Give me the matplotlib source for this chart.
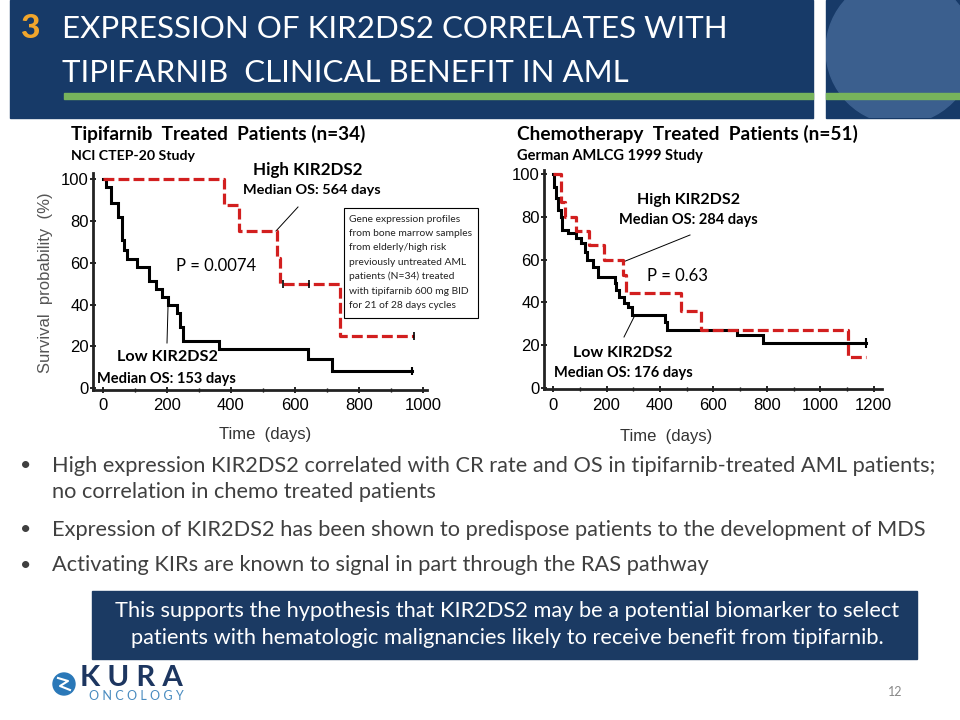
import numpy as np
import matplotlib
matplotlib.use('Agg')
import matplotlib.pyplot as plt
from matplotlib.patches import Rectangle, Circle

# ---- data ----
# tipifarnib (n=34), step times (days) and survival (%)
tipi_low_t = [0, 12, 26, 49, 62, 68, 75, 106, 144, 165, 185, 203, 231, 242, 250, 362, 642, 717]
tipi_low_s = [100, 96.2, 88.5, 82, 71, 66, 62, 58, 51.5, 47.5, 43.5, 39.7, 36, 29.5, 22.6, 18.9, 14.1, 8.3]
tipi_low_end = 966
tipi_high_t = [0, 380, 425, 543, 553, 742]
tipi_high_s = [100, 87.5, 75, 62.5, 50, 25]
tipi_high_end = 972
tipi_high_cens_t = [563, 645]
tipi_high_cens_s = [50, 50]

# chemotherapy (n=51)
chemo_low_t = [0, 4, 12, 19, 29, 35, 56, 87, 106, 119, 127, 150, 169, 231, 237, 247, 265, 281, 294, 419, 425, 687, 787]
chemo_low_s = [100, 94, 88.6, 83, 80, 73.8, 72.2, 69.9, 67.6, 63.6, 59.7, 56.6, 52, 48.8, 45.7, 42.6, 39.5, 37.9, 33.8, 30.9, 27, 24.6, 20.7]
chemo_low_end = 1172
chemo_high_t = [0, 29, 46, 85, 135, 190, 260, 272, 479, 554, 1104]
chemo_high_s = [100, 86.7, 80, 73.3, 66.7, 60, 52.7, 44.4, 35.8, 27.2, 14.3]
chemo_high_end = 1172

y_ticks = [0, 20, 40, 60, 80, 100]
tipi_xticks = [0, 200, 400, 600, 800, 1000]
chemo_xticks = [0, 200, 400, 600, 800, 1000, 1200]

title_lines = ['EXPRESSION OF KIR2DS2 CORRELATES WITH', 'TIPIFARNIB  CLINICAL BENEFIT IN AML']
bullets = ['High expression KIR2DS2 correlated with CR rate and OS in tipifarnib-treated AML patients;\nno correlation in chemo treated patients',
           'Expression of KIR2DS2 has been shown to predispose patients to the development of MDS',
           'Activating KIRs are known to signal in part through the RAS pathway']
box_lines = ['This supports the hypothesis that KIR2DS2 may be a potential biomarker to select',
             'patients with hematologic malignancies likely to receive benefit from tipifarnib.']
note_lines = ['Gene expression profiles', 'from bone marrow samples', 'from elderly/high risk',
              'previously untreated AML', 'patients (N=34) treated', 'with tipifarnib 600 mg BID',
              'for 21 of 28 days cycles']

NAVY = '#173a68'
BOX = '#1b3a63'
GREEN = '#77b35c'
RED = '#d21f1f'
SLIDE_FONT = ['Lato', 'DejaVu Sans']
AX_FONT = ['Liberation Sans', 'DejaVu Sans']

fig = plt.figure(figsize=(9.6, 7.2), dpi=100)
bg = fig.add_axes([0, 0, 1, 1])
bg.set_xlim(0, 960)
bg.set_ylim(720, 0)
bg.axis('off')
renderer = fig.canvas.get_renderer()


def put(x, y, s, width=None, size=12, **kw):
    kw.setdefault('family', SLIDE_FONT)
    kw.setdefault('va', 'center')
    t = bg.text(x, y, s, fontsize=size, **kw)
    if width:
        w = t.get_window_extent(renderer).width
        t.set_fontsize(size * width / w)
    return t


# ---- header ----
bg.add_patch(Rectangle((10, 0), 803, 118, color=NAVY, zorder=1))
panel = Rectangle((826, 0), 134, 118, color=NAVY, zorder=1)
bg.add_patch(panel)
globe = Circle((900, 50), 74, color='#3b5f8e', zorder=2)
bg.add_patch(globe)
globe.set_clip_path(panel)
bg.add_patch(Rectangle((64, 93), 749, 6, color=GREEN, zorder=3))
bg.add_patch(Rectangle((826, 93), 134, 6, color=GREEN, zorder=3))
put(20, 28, '3', size=24, color='#f2a62c', weight='black', zorder=4)
t1 = put(62, 29, title_lines[0], width=665, size=24, color='white', zorder=4)
put(62, 73, title_lines[1], size=t1.get_fontsize(), color='white', zorder=4)

# ---- subtitles ----
put(71, 134, 'Tipifarnib  Treated  Patients (n=34)', width=294, size=13, weight='bold')
put(71, 156, 'NCI CTEP-20 Study', width=124, size=9, weight='bold')
put(517, 134, 'Chemotherapy  Treated  Patients (n=51)', width=340, size=13, weight='bold')
put(517, 156, 'German AMLCG 1999 Study', width=186, size=9, weight='bold')


def km_axes(rect, xlim, ylim, xticks):
    ax = fig.add_axes(rect)
    ax.set_xlim(*xlim)
    ax.set_ylim(*ylim)
    for side in ['top', 'right']:
        ax.spines[side].set_visible(False)
    for side in ['left', 'bottom']:
        ax.spines[side].set_linewidth(2)
        ax.spines[side].set_color('#222222')
    ax.set_yticks(y_ticks)
    ax.set_xticks(xticks)
    ax.set_xticks(np.arange(100, xticks[-1], 200), minor=True)
    ax.tick_params(axis='both', which='major', length=4, width=1.2, direction='inout',
                   labelsize=12, pad=4)
    ax.tick_params(axis='x', which='minor', length=3, width=1, direction='inout')
    ax.tick_params(axis='y', pad=1)
    for lab in ax.get_xticklabels() + ax.get_yticklabels():
        lab.set_family(AX_FONT)
    ax.patch.set_alpha(0)
    return ax


def km(ax, t, s, end, **kw):
    ax.step(list(t) + [end], list(s) + [s[-1]], where='post', **kw)


black_kw = dict(color='black', lw=2.2, solid_joinstyle='miter')
red_kw = dict(color=RED, lw=2.3, dashes=(3.4, 1.3))

# ---- left KM plot ----
axl = km_axes([93 / 960, (720 - 390) / 720, (427 - 93) / 960, (390 - 173) / 720],
              (-30, 1012), (-0.8, 102.9), tipi_xticks)
km(axl, tipi_low_t, tipi_low_s, tipi_low_end, **black_kw)
km(axl, tipi_high_t, tipi_high_s, tipi_high_end, **red_kw)
axl.plot([tipi_low_end], [tipi_low_s[-1]], marker='|', ms=6, mew=1.5, color='black')
axl.plot(tipi_high_cens_t + [tipi_high_end], tipi_high_cens_s + [tipi_high_s[-1]],
         ls='none', marker='|', ms=6, mew=1.2, color='black')

# ---- right KM plot ----
axr = km_axes([544 / 960, (720 - 389.3) / 720, (882 - 544) / 960, (389.3 - 170) / 720],
              (-34, 1231), (-0.75, 101.9), chemo_xticks)
km(axr, chemo_low_t, chemo_low_s, chemo_low_end, **black_kw)
km(axr, chemo_high_t, chemo_high_s, chemo_high_end, **red_kw)
axr.plot([chemo_low_end], [chemo_low_s[-1]], marker='|', ms=7, mew=1.5, color='black')

# axis titles
put(265, 434, 'Time  (days)', size=12, ha='center', family=AX_FONT, color='#333333')
put(666, 437, 'Time  (days)', size=12, ha='center', family=AX_FONT, color='#333333')
put(46, 283, 'Survival  probability  (%)', size=12, ha='center', rotation=90,
    family=AX_FONT, color='#555555')

# ---- annotations, left ----
put(253, 170, 'High KIR2DS2', width=110, size=11, weight='bold')
put(243, 190, 'Median OS: 564 days', width=138, size=9.5, weight='bold')
bg.plot([298, 276], [207, 231], color='black', lw=0.7)
put(176, 266, 'P = 0.0074', width=80, size=11)
put(117, 357, 'Low KIR2DS2', width=101, size=11, weight='bold')
put(97, 379, 'Median OS: 153 days', width=140, size=9.5, weight='bold')
bg.plot([167, 168], [343, 307], color='black', lw=0.7)

bg.add_patch(Rectangle((344, 208), 134, 110, fill=False, ec='black', lw=0.8))
lt = put(349, 219, note_lines[1], width=123, size=7.5)
fs = lt.get_fontsize()
lt.remove()
for i, line in enumerate(note_lines):
    put(349, 219 + i * 14.4, line, size=fs, color='#222222')

# ---- annotations, right ----
put(637, 200, 'High KIR2DS2', width=103, size=11, weight='bold')
put(619, 220, 'Median OS: 284 days', width=139, size=9.5, weight='bold')
bg.plot([690, 623], [235, 262], color='black', lw=0.7)
put(647, 276, 'P = 0.63', width=61, size=11)
put(573, 353, 'Low KIR2DS2', width=100, size=11, weight='bold')
put(554, 373, 'Median OS: 176 days', width=139, size=9.5, weight='bold')
bg.plot([624, 634], [337, 317], color='black', lw=0.7)

# ---- bullets ----
b0 = put(52, 466, bullets[0].split('\n')[0], width=885, size=14, color='#404040')
bfs = b0.get_fontsize()
put(52, 492, bullets[0].split('\n')[1], size=bfs, color='#404040')
put(52, 530, bullets[1], size=bfs, color='#404040')
put(52, 565, bullets[2], size=bfs, color='#404040')
for yb in [466, 530, 565]:
    put(20, yb, '\u2022', size=bfs * 0.9, color='#404040')

# ---- conclusion box ----
bg.add_patch(Rectangle((92, 591), 825, 68, color=BOX))
c0 = put(507, 611, box_lines[0], width=783, size=14, color='white', ha='center')
put(507, 638, box_lines[1], size=c0.get_fontsize(), color='white', ha='center')

# ---- logo and page number ----
bg.add_patch(Circle((64, 684), 11, color='#2a78b8'))
bg.plot([58, 68, 60, 70], [678, 681, 686, 690], color='white', lw=1.5)
put(80, 675, 'K U R A', width=103, size=14, weight='bold', color='#1d3660',
    va='center_baseline')
put(89, 696, 'O N C O L O G Y', width=94, size=6, color='#4a8cc0')
put(888, 692, '12', size=9, color='#888888')

fig.savefig('out.png', dpi=100)
